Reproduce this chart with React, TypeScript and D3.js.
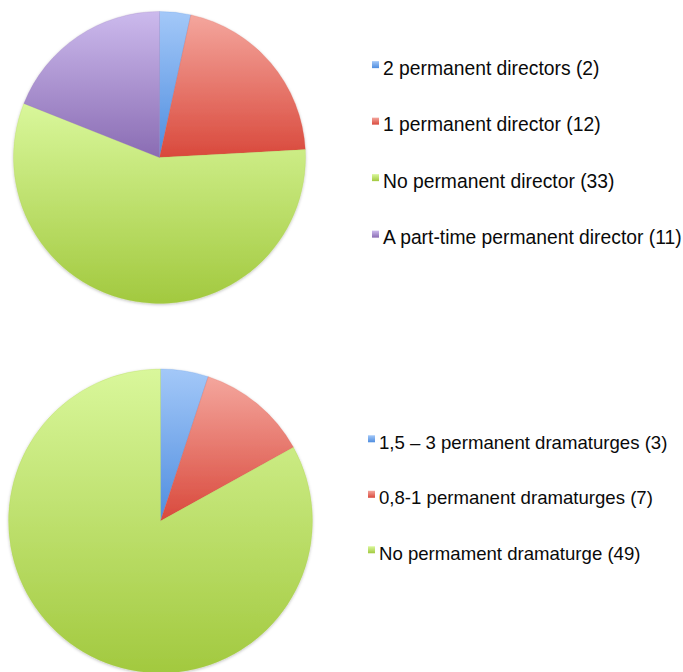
import React, { useEffect, useRef } from "react";
import * as d3 from "d3";

// Data
const directorLabels = [
  "2 permanent directors",
  "1 permanent director",
  "No permanent director",
  "A part-time permanent director",
];
const directorValues = [2, 12, 33, 11];

const dramaturgeLabels = [
  "1,5 – 3 permanent dramaturges",
  "0,8-1 permanent dramaturges",
  "No permament dramaturge",
];
const dramaturgeValues = [3, 7, 49];

// top / bottom gradient stops per slice colour
const sliceColors = [
  ["#a3c8f8", "#4f8ddf"],
  ["#f4a69d", "#d9493c"],
  ["#d9f79b", "#a2c93f"],
  ["#ccbaed", "#8a6cb3"],
];

const App = () => {
  const svgRef = useRef<SVGSVGElement>(null);

  useEffect(() => {
    const width = 683;
    const height = 672;

    d3.select(svgRef.current).selectAll("*").remove();

    const svg = d3
      .select(svgRef.current)
      .attr("width", width)
      .attr("height", height)
      .attr("viewBox", `0 0 ${width} ${height}`);

    const defs = svg.append("defs");

    sliceColors.forEach((c, i) => {
      const g = defs
        .append("linearGradient")
        .attr("id", `grad${i}`)
        .attr("x1", 0)
        .attr("y1", 0)
        .attr("x2", 0)
        .attr("y2", 1);
      g.append("stop").attr("offset", "0%").attr("stop-color", c[0]);
      g.append("stop").attr("offset", "100%").attr("stop-color", c[1]);
    });

    const shadow = defs
      .append("filter")
      .attr("id", "shadow")
      .attr("x", "-10%")
      .attr("y", "-10%")
      .attr("width", "120%")
      .attr("height", "120%");
    shadow
      .append("feDropShadow")
      .attr("dx", 0)
      .attr("dy", 1)
      .attr("stdDeviation", 1.5)
      .attr("flood-color", "#000")
      .attr("flood-opacity", 0.25);

    const pie = d3.pie<number>().sort(null).value((d) => d);

    const drawPie = (
      values: number[],
      labels: string[],
      cx: number,
      cy: number,
      r: number,
      legend: { x: number; y0: number; step: number; fontSize: number }
    ) => {
      const arc = d3.arc<d3.PieArcDatum<number>>().innerRadius(0).outerRadius(r);

      const g = svg
        .append("g")
        .attr("transform", `translate(${cx},${cy})`)
        .attr("filter", "url(#shadow)");

      g.selectAll("path")
        .data(pie(values))
        .join("path")
        .attr("d", arc)
        .attr("fill", (d, i) => `url(#grad${i})`)
        .attr("stroke", (d, i) => sliceColors[i][1])
        .attr("stroke-opacity", 0.35)
        .attr("stroke-width", 0.6);

      const lg = svg.append("g");
      const rows = lg
        .selectAll("g")
        .data(values)
        .join("g")
        .attr("transform", (d, i) => `translate(${legend.x},${legend.y0 + i * legend.step})`);

      rows
        .append("rect")
        .attr("x", 0)
        .attr("y", -legend.fontSize * 0.2 - 3)
        .attr("width", 7)
        .attr("height", 7)
        .attr("fill", (d, i) => `url(#grad${i})`);

      rows
        .append("text")
        .attr("x", 11)
        .attr("y", 0)
        .attr("dy", "0.35em")
        .style("font-family", "'Liberation Sans', Arial, sans-serif")
        .style("font-size", `${legend.fontSize}px`)
        .style("fill", "#0a0a0a")
        .text((d, i) => `${labels[i]} (${d})`);
    };

    drawPie(directorValues, directorLabels, 159.5, 157.5, 146, {
      x: 372,
      y0: 68,
      step: 56.5,
      fontSize: 19.3,
    });

    drawPie(dramaturgeValues, dramaturgeLabels, 160.5, 521, 152, {
      x: 368,
      y0: 442,
      step: 55.5,
      fontSize: 18.6,
    });
  }, []);

  return (
    <svg
      ref={svgRef}
      style={{ position: "absolute", left: 0, top: 0, display: "block" }}
    ></svg>
  );
};

export default App;
